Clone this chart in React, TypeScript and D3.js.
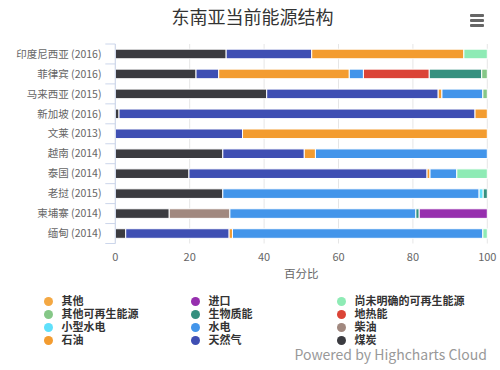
import React from "react";
import * as d3 from "d3";

const categories = [
  "印度尼西亚 (2016)",
  "菲律宾 (2016)",
  "马来西亚 (2015)",
  "新加坡 (2016)",
  "文莱 (2013)",
  "越南 (2014)",
  "泰国 (2014)",
  "老挝 (2015)",
  "柬埔寨 (2014)",
  "缅甸 (2014)",
];

// stacked left-to-right
const coal = [29.8, 21.7, 40.7, 1.0, 0, 28.9, 19.8, 28.9, 14.5, 2.8];
const gas = [23.0, 6.1, 46.1, 95.7, 34.2, 21.9, 64.0, 0, 0, 27.8];
const oil = [40.9, 35.1, 1.0, 3.3, 65.8, 3.0, 0.8, 0, 0, 0.9];
const diesel = [0, 0, 0, 0, 0, 0, 0, 0, 16.3, 0];
const hydro = [0, 3.8, 11.0, 0, 0, 46.2, 7.2, 68.9, 50.0, 67.3];
const smallHydro = [0, 0, 0, 0, 0, 0, 0, 1.1, 0, 0];
const geothermal = [0, 17.7, 0, 0, 0, 0, 0, 0, 0, 0];
const biomass = [0, 14.1, 0, 0, 0, 0, 0, 1.1, 0.9, 0];
const otherRenew = [0, 1.5, 1.2, 0, 0, 0, 0, 0, 0, 0];
const unknownRenew = [6.3, 0, 0, 0, 0, 0, 8.2, 0, 0, 1.2];
const imports = [0, 0, 0, 0, 0, 0, 0, 0, 18.3, 0];
const other = [0, 0, 0, 0, 0, 0, 0, 0, 0, 0];

const xTicks = [0, 20, 40, 60, 80, 100];

// series in stacking order (left to right)
const series = [
  { name: "煤炭", color: "#3b3b40", data: coal },
  { name: "天然气", color: "#3f4fb3", data: gas },
  { name: "石油", color: "#f39c30", data: oil },
  { name: "柴油", color: "#a1887f", data: diesel },
  { name: "水电", color: "#4395ea", data: hydro },
  { name: "小型水电", color: "#5fe0fb", data: smallHydro },
  { name: "地热能", color: "#db4437", data: geothermal },
  { name: "生物质能", color: "#35907f", data: biomass },
  { name: "其他可再生能源", color: "#85c787", data: otherRenew },
  { name: "尚未明确的可再生能源", color: "#8eebb5", data: unknownRenew },
  { name: "进口", color: "#962fae", data: imports },
  { name: "其他", color: "#f4a843", data: other },
];

// legend order (row-wise, 3 columns)
const legendOrder = [
  "其他", "进口", "尚未明确的可再生能源",
  "其他可再生能源", "生物质能", "地热能",
  "小型水电", "水电", "柴油",
  "石油", "天然气", "煤炭",
];

const FONT = "'Noto Sans CJK SC', 'Noto Sans', sans-serif";

export default function App() {
  const left = 115.3, right = 487.3, top = 44, bottom = 243.5;
  const x = d3.scaleLinear().domain([0, 100]).range([left, right]);
  const y = d3.scaleBand<string>().domain(categories).range([top, bottom]).padding(0);
  const barH = y.bandwidth() * 0.48;

  const stack = d3
    .stack<number>()
    .keys(series.map((_, i) => String(i)))
    .value((idx, key) => series[+key].data[idx]);
  const stacked = stack(categories.map((_, i) => i));

  const legendCols = [48.5, 195.5, 341.5];
  const legendRows = [301.5, 314.5, 327.5, 340.5];

  return (
    <svg
      width={500}
      height={370}
      style={{ position: "absolute", left: 0, top: 0, background: "#fff", fontFamily: FONT }}
    >
      <rect width={500} height={370} fill="#fff" />
      <text x={252.5} y={24} textAnchor="middle" fontSize={18} fill="#333">
        东南亚当前能源结构
      </text>
      {/* menu icon */}
      {[15.5, 20.5, 25.5].map((yy, i) => (
        <rect key={i} x={470} y={yy - 1.5} width={14} height={3} rx={1} fill="#666" />
      ))}

      {/* grid */}
      {xTicks.map((t) => (
        <line key={t} x1={x(t)} x2={x(t)} y1={top} y2={bottom} stroke="#e6e6e6" strokeWidth={1} />
      ))}

      {/* bars */}
      {stacked.map((layer, si) =>
        layer.map((d, ci) => {
          const w = x(d[1]) - x(d[0]);
          if (w <= 0) return null;
          const cy = (y(categories[ci]) as number) + y.bandwidth() / 2;
          return (
            <rect
              key={si + "-" + ci}
              x={x(d[0])}
              y={cy - barH / 2}
              width={w}
              height={barH}
              fill={series[si].color}
              stroke="#fff"
              strokeWidth={1}
            />
          );
        })
      )}

      {/* category axis */}
      <line x1={left} x2={left} y1={top} y2={bottom} stroke="#ccd6eb" strokeWidth={1} />
      {d3.range(categories.length + 1).map((i) => {
        const yy = top + i * y.step();
        return <line key={i} x1={left - 10} x2={left} y1={yy} y2={yy} stroke="#ccd6eb" strokeWidth={1} />;
      })}
      {categories.map((c) => (
        <text
          key={c}
          x={101.5}
          y={(y(c) as number) + y.bandwidth() / 2}
          dy="0.35em"
          textAnchor="end"
          fontSize={10.5}
          fill="#666"
        >
          {c}
        </text>
      ))}

      {/* value axis labels */}
      {xTicks.map((t) => (
        <text key={t} x={x(t)} y={261} textAnchor="middle" fontSize={11} fill="#666">
          {t}
        </text>
      ))}
      <text x={(left + right) / 2} y={278} textAnchor="middle" fontSize={11.5} fill="#666">
        百分比
      </text>

      {/* legend */}
      {legendOrder.map((name, i) => {
        const s = series.find((q) => q.name === name)!;
        const col = i % 3;
        const row = Math.floor(i / 3);
        const cx = legendCols[col];
        const cy = legendRows[row];
        return (
          <g key={name}>
            <circle cx={cx} cy={cy} r={4.5} fill={s.color} />
            <text x={cx + 13} y={cy} dy="0.36em" fontSize={11} fontWeight="bold" fill="#333">
              {name}
            </text>
          </g>
        );
      })}

      <text x={487} y={360} textAnchor="end" fontSize={14} fill="#999">
        Powered by Highcharts Cloud
      </text>
    </svg>
  );
}
